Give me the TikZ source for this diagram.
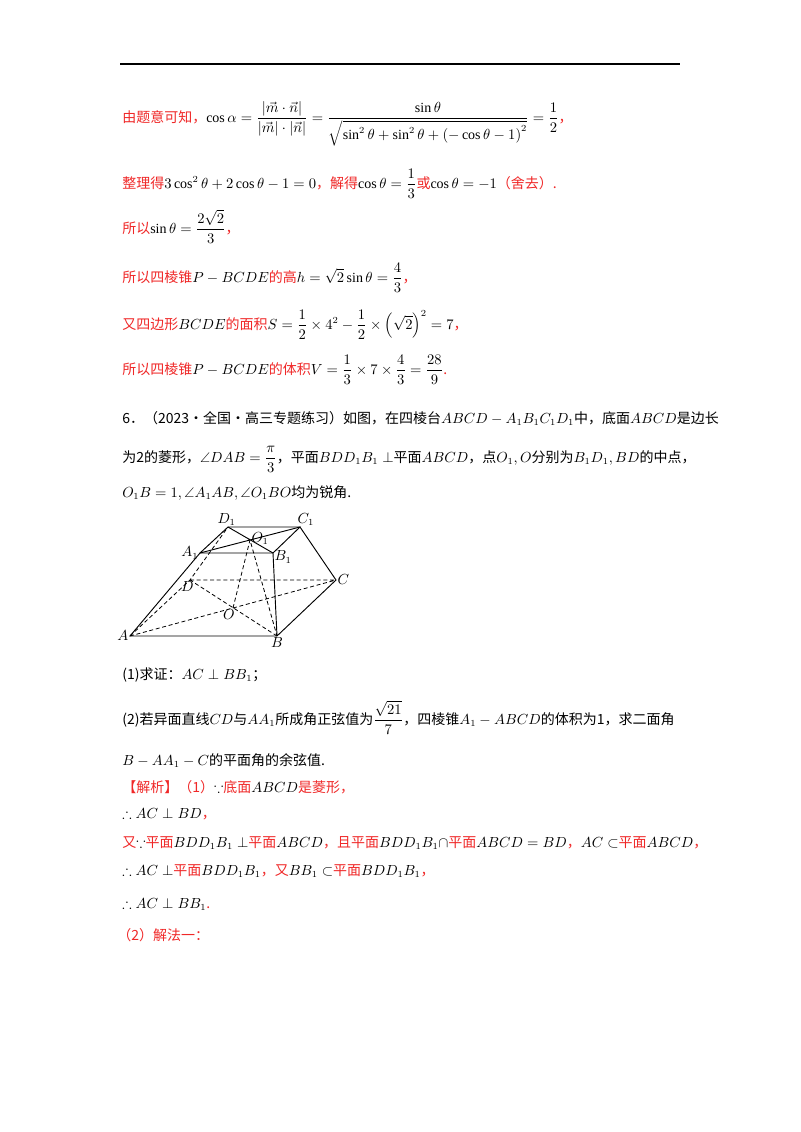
\documentclass[tikz,border=0pt]{standalone}
\usepackage{amsmath,amssymb}
\usepackage{fontspec}
\setmainfont{Liberation Serif}
\newfontfamily\cjk{Noto Sans CJK SC}
\definecolor{rd}{RGB}{240,40,40}
\newcommand{\mm}[1]{{\color{black}$#1$}}
\begin{document}
\begin{tikzpicture}[x=0.75pt,y=-0.75pt,
  txt/.style={anchor=base west,inner sep=0pt,font=\cjk\fontsize{10.5}{12}\selectfont},
  red/.style={txt,text=rd},
  lab/.style={inner sep=1pt,font=\itshape\fontsize{10.5}{12}\selectfont},
  edge/.style={line width=0.7pt},
  hid/.style={line width=0.6pt,dashed,dash pattern=on 3pt off 2pt}]
\useasboundingbox (0,0) rectangle (800,1132);
\fill[white] (0,0) rectangle (800,1132);
\coordinate (r1) at (120,64); \coordinate (r2) at (680,64);
\draw[line width=0.8pt] (r1) -- (r2);

\node[red] (t1) at (122,122) {由题意可知，\mm{\cos\alpha=\dfrac{|\vec m\cdot\vec n|}{|\vec m|\cdot|\vec n|}=\dfrac{\sin\theta}{\sqrt{\sin^2\theta+\sin^2\theta+\left(-\cos\theta-1\right)^2}}=\dfrac12}，};
\node[red] (t2) at (122,188) {整理得\mm{3\cos^2\theta+2\cos\theta-1=0}，解得\mm{\cos\theta=\dfrac13}或\mm{\cos\theta=-1}（舍去）.};
\node[red] (t3) at (122,233) {所以\mm{\sin\theta=\dfrac{2\sqrt2}{3}}，};
\node[red] (t4) at (122,282) {所以四棱锥\mm{P-BCDE}的高\mm{h=\sqrt2\sin\theta=\dfrac43}，};
\node[red] (t5) at (122,329) {又四边形\mm{BCDE}的面积\mm{S=\dfrac12\times4^2-\dfrac12\times\left(\sqrt2\right)^2=7}，};
\node[red] (t6) at (122,374) {所以四棱锥\mm{P-BCDE}的体积\mm{V=\dfrac13\times7\times\dfrac43=\dfrac{28}{9}}.};

\node[txt] (q1) at (122,423) {6．（2023·全国·高三专题练习）如图，在四棱台$ABCD-A_1B_1C_1D_1$中，底面$ABCD$是边长};
\node[txt] (q2) at (122,462) {为2的菱形，$\angle DAB=\dfrac{\pi}{3}$，平面$BDD_1B_1\perp$平面$ABCD$，点$O_1,O$分别为$B_1D_1,BD$的中点，};
\node[txt] (q3) at (122,497) {$O_1B=1,\angle A_1AB,\angle O_1BO$均为锐角.};

% figure
\coordinate (D1) at (228,527); \coordinate (C1) at (300,527);
\coordinate (A1) at (200,553); \coordinate (B1) at (273,553);
\coordinate (O1) at (250,540);
\coordinate (D) at (190,580); \coordinate (C) at (336,580);
\coordinate (A) at (130,636); \coordinate (B) at (277,636);
\coordinate (O) at (233,608);
\draw[edge] (D1)--(C1)--(B1)--(A1)--cycle;
\draw[edge] (A1)--(C1) (D1)--(B1);
\draw[edge] (A1)--(A)--(B)--(C)--(C1) (B1)--(B);
\draw[hid] (A)--(C) (B)--(D) (D)--(C) (A)--(D)--(D1) (O)--(O1)--(B);
\node[lab,above] (lD1) at ([xshift=-1pt]D1) {$D_1$};
\node[lab,above right] (lC1) at ([xshift=-3pt]C1) {$C_1$};
\node[lab,left] (lA1) at (A1) {$A_1$};
\node[lab,right] (lB1) at ([yshift=-3pt]B1) {$B_1$};
\node[lab,right] (lO1) at ([yshift=1pt]O1) {$O_1$};
\node[lab,below] (lD) at ([xshift=-2pt]D) {$D$};
\node[lab,right] (lC) at (C) {$C$};
\node[lab,left] (lA) at (A) {$A$};
\node[lab,below] (lB) at (B) {$B$};
\node[lab,below] (lO) at ([xshift=-3pt]O) {$O$};

\node[txt] (p1) at (122,679) {(1)求证：$AC\perp BB_1$；};
\node[txt] (p2) at (122,724) {(2)若异面直线$CD$与$AA_1$所成角正弦值为$\dfrac{\sqrt{21}}{7}$，四棱锥$A_1-ABCD$的体积为1，求二面角};
\node[txt] (p3) at (122,765) {$B-AA_1-C$的平面角的余弦值.};

\node[red] (s1) at (122,792) {【解析】（1）\mm{\because}底面\mm{ABCD}是菱形，};
\node[red] (s2) at (122,818) {\mm{\therefore AC\perp BD}，};
\node[red] (s3) at (122,847) {又\mm{\because}平面\mm{BDD_1B_1\perp}平面\mm{ABCD}，且平面\mm{BDD_1B_1\cap}平面\mm{ABCD=BD}，\mm{AC\subset}平面\mm{ABCD}，};
\node[red] (s4) at (122,875) {\mm{\therefore AC\perp}平面\mm{BDD_1B_1}，又\mm{BB_1\subset}平面\mm{BDD_1B_1}，};
\node[red] (s5) at (122,908) {\mm{\therefore AC\perp BB_1}.};
\node[red] (s6) at (117,940) {（2）解法一：};
\end{tikzpicture}
\end{document}
